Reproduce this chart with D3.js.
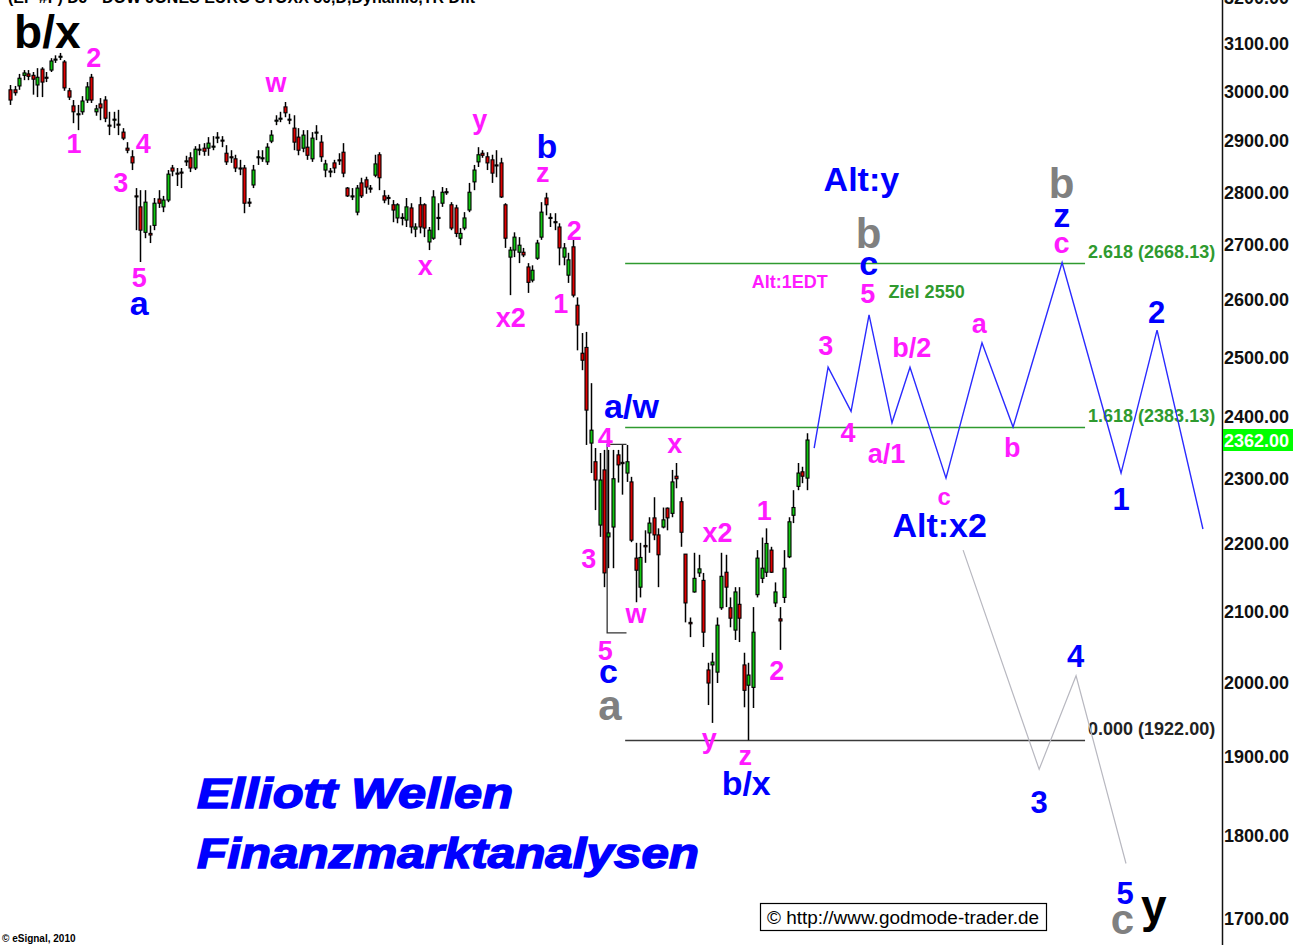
<!DOCTYPE html>
<html>
<head>
<meta charset="utf-8">
<script src="https://cdn.jsdelivr.net/npm/d3@7"></script>
<style>
  body { margin: 0; background: #fff; }
  svg { display: block; font-family: "Liberation Sans", Arial, sans-serif; }
</style>
</head>
<body>
<svg id="chart" width="1304" height="945"></svg>
<script>
// Daily candles (index 0 = first bar on the left)
var candleOpen = [3004,3004,3012,3034,3037,3034,3014,3047,3030,3045,3066,3072,3062,3002,2971,2953,2959,2983,3030,2959,
  2975,2983,2932,2942,2934,2918,2886,2869,2793,2772,2724,2722,2737,2787,2772,2785,2847,2837,2839,2859,
  2867,2847,2882,2886,2886,2888,2906,2902,2876,2869,2865,2847,2847,2781,2814,2867,2865,2859,2900,2940,
  2944,2969,2944,2926,2908,2886,2888,2865,2916,2898,2843,2839,2857,2863,2878,2808,2793,2762,2818,2824,
  2808,2833,2873,2793,2790,2776,2751,2752,2747,2770,2730,2776,2776,2706,2713,2752,2779,2801,2776,2770,
  2713,2732,2766,2820,2859,2876,2869,2863,2853,2857,2776,2678,2691,2687,2687,2660,2636,2676,2715,2789,
  2752,2744,2734,2678,2645,2697,2591,2507,2517,2357,2327,2228,2314,2210,2225,2338,2326,2309,2295,2178,
  2135,2197,2216,2239,2213,2225,2254,2246,2304,2264,2184,2084,2128,2156,2145,2017,2024,2014,2105,2157,
  2105,2073,2110,2024,1996,1993,2124,2148,2157,2190,2112,2089,2120,2180,2243,2288,2311,2301];
var candleHigh = [3014,3012,3037,3045,3045,3041,3049,3051,3041,3070,3076,3081,3066,3008,2983,2973,2991,3020,3037,2973,
  2987,2991,2959,2959,2963,2926,2898,2882,2808,2804,2804,2737,2789,2804,2793,2843,2853,2847,2847,2871,
  2878,2890,2894,2896,2908,2910,2918,2910,2892,2882,2873,2863,2853,2789,2853,2882,2882,2896,2922,2952,
  2959,2979,2955,2952,2926,2922,2922,2918,2932,2912,2863,2847,2863,2876,2896,2810,2808,2814,2828,2830,
  2814,2873,2878,2804,2795,2785,2779,2760,2789,2779,2741,2791,2779,2734,2804,2779,2810,2808,2781,2776,
  2732,2762,2818,2853,2888,2882,2878,2873,2882,2867,2779,2697,2724,2715,2695,2667,2663,2710,2781,2799,
  2760,2760,2741,2704,2686,2713,2605,2542,2544,2456,2349,2341,2346,2346,2346,2346,2354,2354,2303,2201,
  2201,2220,2240,2271,2223,2255,2255,2314,2325,2271,2184,2091,2186,2183,2156,2027,2041,2091,2186,2183,
  2120,2135,2135,2041,2027,2106,2190,2209,2223,2195,2142,2106,2190,2240,2282,2325,2319,2373];
var candleLow = [2973,2992,3004,3024,3024,2994,2989,2989,3020,3041,3060,3066,3002,2983,2936,2922,2953,2977,2977,2951,
  2942,2938,2912,2926,2912,2902,2876,2843,2728,2669,2713,2704,2728,2770,2762,2781,2831,2812,2808,2851,
  2839,2843,2872,2871,2871,2882,2896,2888,2853,2857,2839,2833,2760,2772,2808,2853,2859,2853,2896,2932,
  2938,2948,2934,2882,2872,2878,2863,2859,2902,2859,2829,2829,2837,2853,2829,2791,2785,2756,2789,2797,
  2799,2829,2804,2779,2776,2743,2741,2737,2734,2722,2715,2722,2715,2691,2710,2728,2772,2795,2728,2715,
  2700,2728,2762,2804,2849,2867,2843,2818,2829,2789,2695,2609,2678,2667,2678,2613,2632,2673,2710,2756,
  2734,2728,2663,2663,2631,2605,2512,2478,2354,2309,2251,2210,2135,2163,2163,2294,2275,2295,2202,2113,
  2120,2171,2186,2205,2135,2223,2220,2240,2285,2195,2084,2063,2127,2150,2049,1969,1945,1999,2102,2106,
  2077,2059,2056,1966,1922,1965,2120,2141,2150,2156,2106,2045,2112,2178,2231,2282,2293,2282];
var candleClose = [2983,2998,3028,3039,3032,3026,3030,3020,3028,3064,3068,3074,3008,2989,2959,2955,2981,3010,2983,2965,
  2967,2946,2930,2944,2932,2906,2882,2857,2791,2728,2781,2719,2779,2779,2785,2835,2841,2835,2837,2861,
  2847,2884,2884,2880,2896,2890,2908,2900,2859,2867,2847,2845,2779,2779,2843,2869,2867,2888,2912,2942,
  2946,2957,2942,2898,2882,2912,2872,2906,2918,2869,2855,2841,2847,2861,2837,2793,2791,2808,2793,2810,
  2806,2855,2828,2785,2788,2766,2776,2750,2772,2734,2734,2734,2732,2728,2791,2750,2800,2799,2732,2722,
  2722,2751,2800,2843,2873,2872,2857,2837,2851,2791,2713,2691,2715,2700,2682,2632,2654,2704,2762,2776,
  2750,2742,2695,2695,2673,2609,2556,2495,2411,2378,2298,2298,2156,2216,2300,2322,2324,2327,2205,2160,
  2179,2195,2231,2213,2183,2236,2239,2295,2300,2217,2112,2082,2148,2162,2070,1999,2028,2080,2151,2135,
  2090,2128,2090,1989,2010,2070,2178,2163,2200,2157,2128,2086,2163,2233,2255,2309,2304,2362];
var lastPrice = 2362.00;

// projected wave count (blue) and the alternative (grey), bar index / price
var projIndex = [178.7, 181.8, 186.9, 190.9, 196.0, 200.0, 208.0, 216.0, 222.9, 233.8, 246.9, 254.9, 265.1];
var projPrice = [2349, 2483, 2409, 2574, 2390, 2483, 2301, 2525, 2383, 2668, 2309, 2547, 2222];
var altIndex = [211.8, 228.7, 236.9, 248.0];
var altPrice = [2190, 1884, 2009, 1766];

// Fibonacci projection levels
var fibRatios = ["2.618", "1.618", "0.000"];
var fibLevels = [2668.13, 2383.13, 1922.00];
var fibFrom = 136.7, fibTo = 238.9;

// bracket drawn around the wave 4 / 5 area
var bracketIndex = [137, 132.7, 132.7, 137];
var bracketPrice = [2355, 2355, 2069, 2069];

// axis ticks
var yTicks = d3.range(1700, 3201, 100);

// wave labels: [text, bar index, price at baseline]
var pinkLabels = [["2",18.6,3051],["1",14.2,2876],["4",29.6,2876],["3",24.6,2800],["5",28.7,2623],
  ["w",59.1,3000],["x",92.3,2645],["y",104.4,2924],["z",118.4,2820],["2",125.4,2710],["1",122.4,2577],
  ["x2",111.3,2552],["4",132.3,2351],["x",147.7,2341],["3",128.6,2164],["w",139.1,2083],["5",132.3,2031],
  ["x2",157.2,2202],["1",167.6,2236],["2",170.4,2003],["y",155.4,1912],["z",163.4,1889],
  ["3",181.3,2504],["4",186.2,2359],["5",190.6,2595],["b/2",200.4,2500],["a/1",194.8,2325],
  ["a",215.4,2542],["b",222.7,2335]];
var pinkSmall = [["c",207.6,2259]];
var pinkMid = [["c",233.7,2685]];
var pinkNote = [["Alt:1EDT",173.3,2621]];
var greenNote = [["Ziel 2550",203.7,2604]];
var blueLabels = [["a",28.7,2574],["b",119.3,2867],["a/w",138.1,2398],["c",133.0,1999],["b/x",163.6,1851],
  ["Alt:y",189.2,2802],["c",190.8,2645],["Alt:x2",206.6,2210],["z",233.7,2734]];
var blueDigits = [["2",254.8,2560],["1",246.9,2251],["4",236.8,2021],["3",228.7,1828],["5",247.8,1718]];
var greyLabels = [["a",133.3,1949],["b",190.8,2695],["b",233.7,2789],["c",247.2,1683]];
var blackLabels = [["b/x",8.3,3091],["y",254.2,1696]];

var svg = d3.select("#chart");
var W = 1304, H = 945;

var x = d3.scaleLinear().domain([0, 177]).range([10, 806.5]);
var y = d3.scaleLog().domain([1700, 3100]).range([919, 44]);

// header line, mostly cut off at the top edge
svg.append("text")
  .attr("x", 8).attr("y", 3)
  .attr("font-size", 16).attr("font-weight", "bold")
  .text("(EP #F) DJ - DOW JONES EURO STOXX 50,D,Dynamic,TR Dflt");

// fib lines
var fibColor = ["#2f9a2f", "#2f9a2f", "#3a3a3a"];
fibLevels.forEach(function(v, k) {
  svg.append("line")
    .attr("x1", x(fibFrom)).attr("x2", x(fibTo))
    .attr("y1", Math.round(y(v)) + 0.5).attr("y2", Math.round(y(v)) + 0.5)
    .attr("stroke", fibColor[k]).attr("stroke-width", 1.3);
  svg.append("text")
    .attr("x", x(fibTo) + 3).attr("y", y(v) - 5)
    .attr("font-size", 18).attr("font-weight", "bold")
    .attr("fill", k < 2 ? "#2f9a2f" : "#222")
    .text(fibRatios[k] + " (" + v.toFixed(2) + ")");
});

// bracket
var line = d3.line().x(function(d) { return x(d[0]); }).y(function(d) { return y(d[1]); });
svg.append("path")
  .attr("d", line(d3.zip(bracketIndex, bracketPrice)))
  .attr("fill", "none").attr("stroke", "#333").attr("stroke-width", 1.3);

// candles
var candles = d3.range(candleOpen.length).map(function(i) {
  return { i: i, o: candleOpen[i], h: candleHigh[i], l: candleLow[i], c: candleClose[i] };
});
var cg = svg.append("g");
cg.selectAll(".wick").data(candles).enter().append("line")
  .attr("x1", function(d) { return Math.round(x(d.i)) + 0.5; })
  .attr("x2", function(d) { return Math.round(x(d.i)) + 0.5; })
  .attr("y1", function(d) { return y(d.h); })
  .attr("y2", function(d) { return y(d.l); })
  .attr("stroke", "#000").attr("stroke-width", 1.5);
cg.selectAll(".body").data(candles).enter().append("rect")
  .attr("x", function(d) { return Math.round(x(d.i)) - 1; })
  .attr("y", function(d) { return y(Math.max(d.o, d.c)); })
  .attr("width", 3)
  .attr("height", function(d) { return Math.max(1, Math.abs(y(d.o) - y(d.c))); })
  .attr("fill", function(d) { return d.c >= d.o ? "#10c810" : "#e00000"; })
  .attr("stroke", "#000").attr("stroke-width", 1.1);

// projected paths
svg.append("path")
  .attr("d", line(d3.zip(altIndex, altPrice)))
  .attr("fill", "none").attr("stroke", "#b8b8c0").attr("stroke-width", 1.2);
svg.append("path")
  .attr("d", line(d3.zip(projIndex, projPrice)))
  .attr("fill", "none").attr("stroke", "#2a2aff").attr("stroke-width", 1.4);

// wave labels
function labels(list, size, color, weight) {
  svg.append("g").selectAll("text").data(list).enter().append("text")
    .attr("x", function(d) { return x(d[1]); })
    .attr("y", function(d) { return y(d[2]); })
    .attr("text-anchor", "middle")
    .attr("font-size", size).attr("font-weight", weight || "bold")
    .attr("fill", color)
    .text(function(d) { return d[0]; });
}
labels(pinkLabels, 27, "#ff1aff");
labels(pinkSmall, 24, "#ff1aff");
labels(pinkMid, 29, "#ff1aff");
labels(pinkNote, 18, "#ff1aff");
labels(greenNote, 18, "#2f9a2f");
labels(blueLabels, 34, "#0000ff");
labels(blueDigits, 31, "#0000ff");
labels(greyLabels, 42, "#808080");
labels(blackLabels, 46, "#000");

// brand text
svg.append("text")
  .attr("x", 197).attr("y", 808)
  .attr("font-size", 42).attr("font-weight", "900").attr("font-style", "italic")
  .attr("fill", "#0000ff").attr("stroke", "#0000ff").attr("stroke-width", 1.5)
  .attr("textLength", 316).attr("lengthAdjust", "spacingAndGlyphs")
  .text("Elliott Wellen");
svg.append("text")
  .attr("x", 197).attr("y", 868)
  .attr("font-size", 42).attr("font-weight", "900").attr("font-style", "italic")
  .attr("fill", "#0000ff").attr("stroke", "#0000ff").attr("stroke-width", 1.5)
  .attr("textLength", 502).attr("lengthAdjust", "spacingAndGlyphs")
  .text("Finanzmarktanalysen");

// link box
svg.append("rect")
  .attr("x", 760.5).attr("y", 903.5).attr("width", 286).attr("height", 27)
  .attr("fill", "#fff").attr("stroke", "#000").attr("stroke-width", 1.2);
svg.append("text")
  .attr("x", 767).attr("y", 924)
  .attr("font-size", 18)
  .attr("textLength", 272).attr("lengthAdjust", "spacingAndGlyphs")
  .text("\u00a9 http://www.godmode-trader.de");

svg.append("text")
  .attr("x", 2).attr("y", 942)
  .attr("font-size", 10).attr("font-weight", "bold")
  .text("\u00a9 eSignal, 2010");

// price axis on the right
var axisG = svg.append("g")
  .attr("transform", "translate(1222,0)")
  .call(d3.axisRight(y).tickValues(yTicks).tickFormat(d3.format(".2f")).tickSize(0).tickPadding(2));
axisG.select(".domain").remove();
axisG.selectAll("text")
  .attr("font-family", "Liberation Sans, Arial, sans-serif")
  .attr("font-size", 18).attr("font-weight", "bold").attr("fill", "#111");

svg.append("line")
  .attr("x1", 1222.5).attr("x2", 1222.5).attr("y1", 0).attr("y2", H)
  .attr("stroke", "#111").attr("stroke-width", 1.5);

// last price marker
svg.append("rect")
  .attr("x", 1223).attr("y", y(lastPrice) - 11).attr("width", 70).attr("height", 22)
  .attr("fill", "#00ff00");
svg.append("text")
  .attr("x", 1224).attr("y", y(lastPrice) + 6.5)
  .attr("font-size", 18).attr("font-weight", "bold").attr("fill", "#fff")
  .text(d3.format(".2f")(lastPrice));
</script>
</body>
</html>
